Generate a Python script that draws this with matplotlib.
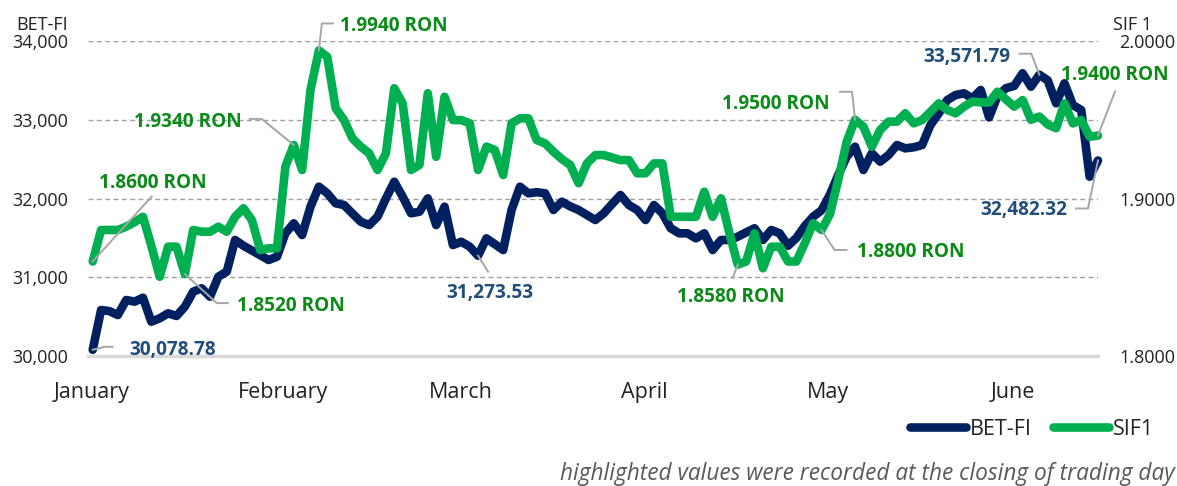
import matplotlib
matplotlib.use('Agg')
import matplotlib.pyplot as plt
from matplotlib.transforms import IdentityTransform
from matplotlib.lines import Line2D
from matplotlib.ticker import FuncFormatter

plt.rcParams['font.family'] = ['Open Sans', 'DejaVu Sans']

# ---------------- data ----------------
months = ['January', 'February', 'March', 'April', 'May', 'June']
month_pos = [-0.1, 22.7, 43.9, 65.8, 87.8, 109.9]

bet_fi = [
    30078.78, 30584, 30570, 30520, 30711, 30690, 30740, 30436, 30479, 30542,
    30508, 30626, 30817, 30860, 30753, 31007, 31071, 31473, 31400, 31340,
    31280, 31219, 31261, 31558, 31685, 31536, 31896, 32150, 32066, 31939,
    31917, 31810, 31705, 31663, 31769, 32000, 32213, 32023, 31812, 31832,
    32002, 31663, 31896, 31409, 31451, 31388, 31273.53, 31494, 31420, 31346,
    31854, 32150, 32066, 32080, 32066, 31854, 31959, 31900, 31854, 31790,
    31727, 31812, 31930, 32044, 31917, 31854, 31727, 31917, 31812, 31622,
    31558, 31558, 31494, 31558, 31346, 31473, 31473, 31515, 31570, 31622,
    31473, 31600, 31558, 31400, 31500, 31650, 31769, 31850, 32050, 32300,
    32530, 32658, 32362, 32574, 32468, 32552, 32679, 32637, 32650, 32679,
    32933, 33082, 33250, 33314, 33336, 33272, 33378, 33030, 33300, 33400,
    33430, 33590, 33420, 33571.79, 33500, 33209, 33463, 33187, 33124, 32277,
    32482.32,
]

sif1 = [
    1.8600, 1.8800, 1.8800, 1.8800, 1.8821, 1.8850, 1.8884, 1.8700, 1.8503, 1.8694,
    1.8694, 1.8520, 1.8800, 1.8789, 1.8789, 1.8821, 1.8789, 1.8884, 1.8938, 1.8863,
    1.8673, 1.8684, 1.8684, 1.9202, 1.9340, 1.9181, 1.9689, 1.9940, 1.9900, 1.9573,
    1.9498, 1.9382, 1.9329, 1.9287, 1.9181, 1.9287, 1.9700, 1.9604, 1.9181, 1.9213,
    1.9668, 1.9265, 1.9646, 1.9498, 1.9498, 1.9477, 1.9181, 1.9329, 1.9308, 1.9149,
    1.9477, 1.9509, 1.9509, 1.9371, 1.9350, 1.9297, 1.9250, 1.9213, 1.9097, 1.9223,
    1.9276, 1.9276, 1.9260, 1.9244, 1.9244, 1.9160, 1.9160, 1.9223, 1.9223, 1.8884,
    1.8884, 1.8884, 1.8884, 1.9043, 1.8884, 1.9001, 1.8780, 1.8580, 1.8600, 1.8779,
    1.8557, 1.8694, 1.8694, 1.8600, 1.8600, 1.8716, 1.8843, 1.8800, 1.8900, 1.9120,
    1.9360, 1.9500, 1.9456, 1.9329, 1.9435, 1.9488, 1.9488, 1.9541, 1.9477, 1.9498,
    1.9550, 1.9604, 1.9562, 1.9541, 1.9583, 1.9615, 1.9610, 1.9610, 1.9678, 1.9630,
    1.9583, 1.9625, 1.9500, 1.9520, 1.9470, 1.9446, 1.9604, 1.9477, 1.9498, 1.9392,
    1.9400,
]

sessions = list(range(len(bet_fi)))

left_ticks = [30000, 31000, 32000, 33000, 34000]
right_ticks = [1.8, 1.9, 2.0]

# highlighted sessions
bet_marks = [0, 46, 113, 120]
sif_marks = [0, 11, 24, 27, 77, 87, 91, 120]

# ---------------- style ----------------
NAVY = '#002060'
GREEN = '#00B050'
NAVY_TXT = '#1F4E79'
GREEN_TXT = '#0A8A16'
LEADER = '#A6A6A6'
TXT = '#222222'
FS_TICK = 13
FS_MONTH = 15.5
FS_ANN = 13.7
LW = 6.2

W, H = 1177, 486
fig = plt.figure(figsize=(W / 100, H / 100), dpi=100)
ax = fig.add_axes([88 / W, 1 - 356 / H, (1098 - 88) / W, (356 - 41) / H])
ax2 = ax.twinx()

ax.set_xlim(-0.56, 120.0)
ax.set_ylim(left_ticks[0], left_ticks[-1])
ax2.set_ylim(right_ticks[0], right_ticks[-1])

for a in (ax, ax2):
    for s in a.spines.values():
        s.set_visible(False)
ax.spines['bottom'].set_visible(True)
ax.spines['bottom'].set_color('#D9D9D9')
ax.spines['bottom'].set_linewidth(2.5)

ax.set_yticks(left_ticks)
ax.yaxis.set_major_formatter(FuncFormatter(lambda v, p: f'{v:,.0f}'))
ax2.set_yticks(right_ticks)
ax2.yaxis.set_major_formatter(FuncFormatter(lambda v, p: f'{v:.4f}'))
ax.set_xticks(month_pos)
ax.set_xticklabels(months)

ax.tick_params(axis='y', length=0, pad=14.4, labelsize=FS_TICK, labelcolor=TXT)
ax2.tick_params(axis='y', length=0, pad=15.5, labelsize=FS_TICK, labelcolor=TXT)
ax.tick_params(axis='x', length=0, pad=18.5, labelsize=FS_MONTH, labelcolor=TXT)

ax.yaxis.grid(True, color='#A0A0A0', linewidth=1.0, linestyle=(0, (3.6, 2.4)))
ax.set_axisbelow(True)

l1, = ax.plot(sessions, bet_fi, color=NAVY, lw=LW, solid_capstyle='round',
              solid_joinstyle='round', clip_on=False, label='BET-FI', zorder=3)
l2, = ax2.plot(sessions, sif1, color=GREEN, lw=LW, solid_capstyle='round',
               solid_joinstyle='round', clip_on=False, label='SIF1', zorder=3)

fig.text(68 / W, 1 - 25 / H, 'BET-FI', ha='right', va='center', fontsize=FS_TICK, color=TXT)
fig.text(1113 / W, 1 - 25 / H, 'SIF 1', ha='left', va='center', fontsize=FS_TICK, color=TXT)

# ---------------- annotations ----------------
def annotate(axis, x, y, label, path, text_off, ha, color):
    px, py = axis.transData.transform((x, y))
    xs = [px + dx for dx, dy in path]
    ys = [py - dy for dx, dy in path]
    fig.add_artist(Line2D(xs, ys, transform=IdentityTransform(), color=LEADER,
                          lw=1.4, zorder=5))
    fig.text(px + text_off[0], py - text_off[1] - 6.8, label,
             transform=IdentityTransform(), ha=ha, va='baseline',
             fontsize=FS_ANN, fontweight='bold', color=color, zorder=6)

bet_layout = {
    0: ([(0, 0), (12, -3), (20, -3)], (37, -2), 'left'),
    46: ([(0, 0), (10, 16)], (12, 35), 'center'),
    113: ([(0, 0), (-8, -21), (-20, -21)], (-29, -20), 'right'),
    120: ([(0, 0), (-10, 48), (-22, 48)], (-31, 48), 'right'),
}
sif_layout = {
    0: ([(0, 0), (59, -65)], (60, -80), 'center'),
    11: ([(0, 0), (32, 29), (43, 29)], (52, 30), 'left'),
    24: ([(0, 0), (-32, -26), (-44, -26)], (-52, -25), 'right'),
    27: ([(0, 0), (3, -27), (14, -27)], (21, -26), 'left'),
    77: ([(0, 0), (-5, 13)], (-7, 31), 'center'),
    87: ([(0, 0), (13, 20), (25, 20)], (35, 20), 'left'),
    91: ([(0, 0), (-3, -28), (-15, -28)], (-25, -18), 'right'),
    120: ([(0, 0), (17, -44)], (17, -62), 'center'),
}

for i in bet_marks:
    path, off, ha = bet_layout[i]
    annotate(ax, sessions[i], bet_fi[i], f'{bet_fi[i]:,.2f}', path, off, ha, NAVY_TXT)
for i in sif_marks:
    path, off, ha = sif_layout[i]
    annotate(ax2, sessions[i], sif1[i], f'{sif1[i]:.4f} RON', path, off, ha, GREEN_TXT)

fig.legend(handles=[l1, l2], labels=['BET-FI', 'SIF1'], ncol=2, frameon=False,
           loc='center right', bbox_to_anchor=(1154 / W, 1 - 429 / H),
           handlelength=2.6, handletextpad=0.2, columnspacing=0.95,
           borderpad=0, borderaxespad=0, fontsize=FS_MONTH, labelcolor=TXT)

fig.text(1175 / W, 1 - 480 / H,
         'highlighted values were recorded at the closing of trading day',
         ha='right', va='baseline', fontsize=16.3, style='italic', color='#595959')

fig.savefig('out.png', dpi=100)
